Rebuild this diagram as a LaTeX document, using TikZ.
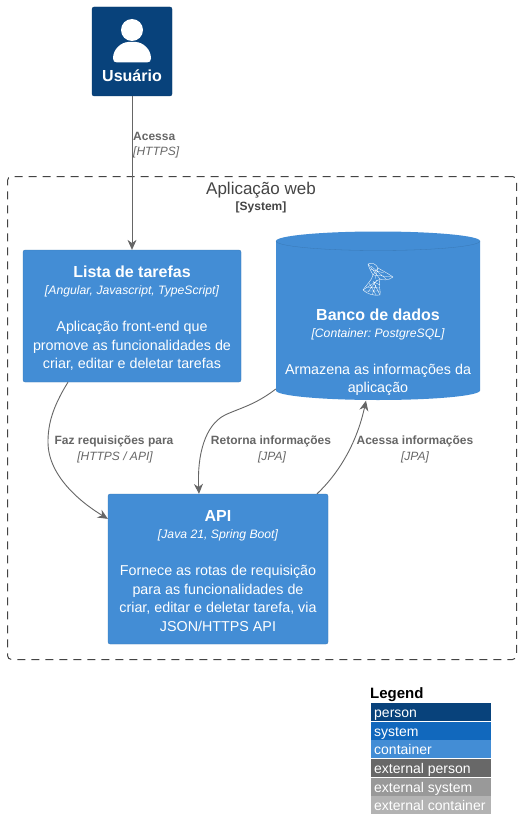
\documentclass[tikz,border=0pt]{standalone}
\usepackage{fontspec}
\setmainfont{Liberation Sans}
\usetikzlibrary{arrows.meta}
\definecolor{personcol}{HTML}{08427B}
\definecolor{systemcol}{HTML}{1168BD}
\definecolor{containercol}{HTML}{438DD5}
\definecolor{extpersoncol}{HTML}{686868}
\definecolor{extsystemcol}{HTML}{999999}
\definecolor{extcontainercol}{HTML}{B3B3B3}
\definecolor{relcol}{HTML}{666666}
\definecolor{boundcol}{HTML}{444444}
\frenchspacing
\newcommand{\fsz}[1]{\fontsize{#1}{#1}\selectfont}
\newcommand{\ftitle}{\fsz{16}\bfseries}
\newcommand{\ftech}{\fsz{12.2}\itshape}
\newcommand{\fdesc}{\fsz{14.3}}
\newcommand{\fixedlines}{\fsz{12}\lineskiplimit=-100pt\relax}
\tikzset{
    rel/.style={-{Stealth[length=10pt,width=9pt]}, color=relcol, line width=.9pt},
    rellabel/.style={text=relcol, align=center, inner sep=0pt, font=\fsz{12}, text depth=0pt},
    contbox/.style={fill=containercol, draw=containercol!85!black, line width=.3pt, rounded corners=2pt, inner sep=0pt},
    conttxt/.style={text=white, align=center, inner sep=0pt, font=\fixedlines},
    legrow/.style={fill=#1, minimum width=120pt, minimum height=18pt, inner sep=0pt},
}
\begin{document}
\begin{tikzpicture}[x=1pt,y=1pt]
    \useasboundingbox[fill=white] (0,0) rectangle (521,-840);
    % boundary
    \node[draw=boundcol, line width=1pt, dash pattern=on 8pt off 6pt, rounded corners=4pt, minimum width=509pt, minimum height=483pt, inner sep=0pt] (sistema) at (262,-418) {};
    \node[text=boundcol, font=\fsz{17}, inner sep=0pt] (sistematitle) at (261,-190) {Aplicação web};
    \node[text=boundcol, font=\fsz{12}\bfseries, inner sep=0pt] (sistematag) at (261,-207) {[System]};

    % person
    \node[fill=personcol, draw=personcol!85!black, line width=.3pt, rounded corners=2pt, minimum width=80pt, minimum height=89pt, inner sep=0pt] (usuario) at (132,-51.5) {};
    \fill[white] (132,-30) circle (11pt);
    \fill[white] (117,-62.5) .. controls (114.5,-62.5) and (113,-61) .. (113,-58.5) .. controls (113,-49) and (121,-42.5) .. (128,-42) -- (136,-42) .. controls (143,-42.5) and (151,-49) .. (151,-58.5) .. controls (151,-61) and (149.5,-62.5) .. (147,-62.5) -- cycle;
    \node[text=white, font=\fsz{16}\bfseries, inner sep=0pt] (usuariotxt) at (132,-76) {Usuário};

    % containers
    \node[contbox, minimum width=218pt, minimum height=132pt] (lista) at (132,-316) {};
    \node[conttxt] (listatxt) at (132,-318.5) {\ftitle Lista de tarefas\\[5pt]\ftech [Angular, Javascript, TypeScript]\\[25pt]\fdesc Aplicação front-end que\\[6.5pt]\fdesc promove as funcionalidades de\\[6.5pt]\fdesc criar, editar e deletar tarefas};
    \node[contbox, minimum width=220pt, minimum height=150pt] (api) at (218,-569) {};
    \node[conttxt] (apitxt) at (218,-571) {\ftitle API\\[5pt]\ftech [Java 21, Spring Boot]\\[25pt]\fdesc Fornece as rotas de requisição\\[6.5pt]\fdesc para as funcionalidades de\\[6.5pt]\fdesc criar, editar e deletar tarefa, via\\[6.5pt]\fdesc JSON/HTTPS API};
    \node[minimum width=204pt, minimum height=169pt, inner sep=0pt] (banco) at (378,-316) {};
    \fill[containercol] (276,-241) arc[start angle=180, end angle=0, x radius=102pt, y radius=9.5pt] -- (480,-390.5) arc[start angle=0, end angle=-180, x radius=102pt, y radius=9.5pt] -- cycle;
    \draw[containercol!85!black, line width=.3pt] (276,-241) arc[start angle=180, end angle=360, x radius=102pt, y radius=9.5pt];
    \node[conttxt] (bancotxt) at (378,-352) {\ftitle Banco de dados\\[5pt]\ftech [Container: PostgreSQL]\\[25pt]\fdesc Armazena as informações da\\[6.5pt]\fdesc aplicação};
    % icon of the database
    \draw[white, line width=.35pt, line join=round] (368,-264) .. controls (372,-262) and (376,-264) .. (378,-268) .. controls (383,-271) and (389,-274) .. (393,-277) .. controls (388,-281) and (382,-280) .. (380,-279) .. controls (378,-285) and (381,-291) .. (380,-295) .. controls (374,-296) and (367,-294) .. (363,-290) .. controls (367,-284) and (372,-280) .. (373,-275) .. controls (371,-271) and (369,-268) .. (368,-264) -- cycle;
    \draw[white, line width=.25pt] (368,-264) -- (380,-279) (378,-268) -- (373,-275) (373,-275) -- (393,-277) (380,-279) -- (363,-290) (373,-281) -- (380,-295) (366,-287) -- (379,-288) (376,-285) -- (372,-295) (371,-266) -- (386,-279) (378,-268) -- (375,-279) (368,-292) -- (377,-280) (370,-269) -- (384,-273) (364,-291) -- (380,-291) (369,-283) -- (376,-295) (374,-282) -- (380,-285);

    % connectors
    \draw[rel] (usuario.south) -- (lista.north);
    \draw[rel] ([xshift=-64pt]lista.south) .. controls (52,-408) and (48,-425) .. (48,-442) .. controls (48,-478) and (85,-505) .. ([yshift=-25pt]api.north west);
    \draw[rel] ([yshift=-73pt]banco.west) .. controls (255,-405) and (240,-408) .. (225,-415) .. controls (205,-425) and (197,-455) .. ([xshift=-19pt]api.north);
    \draw[rel] ([xshift=99pt]api.north) .. controls (340,-472) and (357,-442) .. ([xshift=-12pt]banco.south);

    % labels
    \node[rellabel, anchor=west] (acessalbl) at (133,-136) {\bfseries Acessa};
    \node[rellabel, anchor=west] (acessatag) at (133,-151.5) {\itshape [HTTPS]};
    \node[rellabel] (fazlbl) at (114,-440.5) {\bfseries Faz requisições para};
    \node[rellabel] (faztag) at (115,-456.5) {\itshape [HTTPS / API]};
    \node[rellabel] (retornalbl) at (271,-440.5) {\bfseries Retorna informações};
    \node[rellabel] (retornatag) at (272,-456.5) {\itshape [JPA]};
    \node[rellabel] (acessainfolbl) at (415,-440.5) {\bfseries Acessa informações};
    \node[rellabel] (acessainfotag) at (415,-456.5) {\itshape [JPA]};

    % legend
    \node[anchor=west, font=\fsz{15}\bfseries, inner sep=0pt, text=black] (legendtitle) at (370,-695) {Legend};
    \foreach \name/\col/\txt/\ypos in {lperson/personcol/person/712,
        lsystem/systemcol/system/730.5,
        lcontainer/containercol/container/749,
        lextperson/extpersoncol/external person/768,
        lextsystem/extsystemcol/external system/786.5,
        lextcontainer/extcontainercol/external container/805}{
        \node[legrow=\col] (\name) at (431,-\ypos) {};
        \node[anchor=base west, text=white, font=\fsz{14}, inner sep=0pt] (\name txt) at (374,-\ypos-5.5) {\txt};
    }
\end{tikzpicture}
\end{document}
